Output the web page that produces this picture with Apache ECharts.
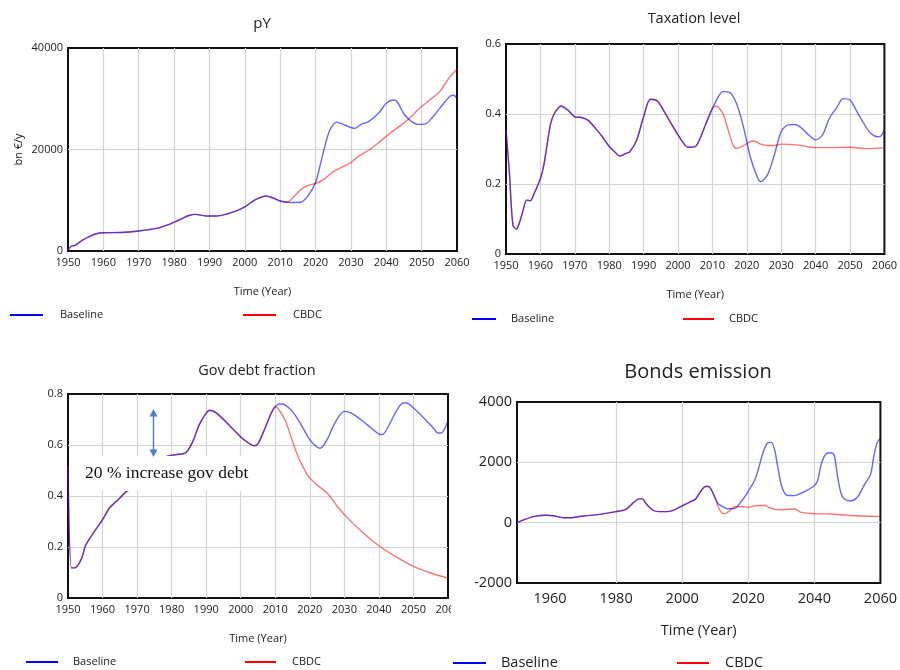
<!DOCTYPE html>
<html><head><meta charset="utf-8">
<script src="https://cdn.jsdelivr.net/npm/echarts@6/dist/echarts.min.js"></script>
<style>html,body{margin:0;padding:0;background:#fff}#c{width:900px;height:670px}</style>
</head><body><div id="c"></div>
<script>
// ---------- DATA ----------
const seriesNames = ['Baseline', 'CBDC'];
const chartTitles = ['pY', 'Taxation level', 'Gov debt fraction', 'Bonds emission'];
const bondsTickYears = [1960, 1980, 2000, 2020, 2040, 2060];

// pY (bn €/y): shared history until 2010, then two scenarios
const pyHistory = [[1950,200],[1951,985],[1952,1100],[1954,2100],[1956,2850],[1958,3400],[1960,3600],[1965,3650],[1970,3950],[1975,4450],[1979,5350],[1982,6300],[1984,6950],[1986,7220],[1989,6900],[1992,6900],[1995,7300],[1997,7750],[2000,8700],[2003,10100],[2006,10840],[2008,10440],[2010,9850]];
const pyBaselineTail = [[2012,9600],[2014,9550],[2016,9650],[2018,11000],[2020,13500],[2022,18900],[2024,23800],[2026,25400],[2028,24900],[2031,24170],[2033,25000],[2035,25500],[2038,27300],[2040,29100],[2042,29750],[2043,29500],[2045,27000],[2047,25600],[2049,24950],[2051,25000],[2053,26300],[2055,28000],[2058,30500],[2059,30700],[2060,30080]];
const pyCbdcTail = [[2012,9650],[2014,10800],[2016,12200],[2018,12950],[2020,13300],[2022,13950],[2025,15630],[2028,16700],[2030,17400],[2032,18600],[2035,19850],[2038,21450],[2041,23180],[2044,24700],[2047,26400],[2049,27900],[2052,29600],[2055,31300],[2058,34300],[2060,35800]];

// Taxation level
const taxHistory = [[1950,0.354],[1951,0.23],[1952,0.083],[1953,0.071],[1954,0.092],[1955,0.126],[1956,0.154],[1957,0.152],[1958,0.169],[1960,0.216],[1961,0.254],[1962,0.316],[1963,0.373],[1964,0.40],[1966,0.423],[1968,0.411],[1970,0.392],[1972,0.39],[1974,0.381],[1976,0.359],[1978,0.335],[1980,0.307],[1982,0.288],[1983,0.28],[1985,0.288],[1986,0.292],[1988,0.326],[1990,0.392],[1992,0.442],[1994,0.437],[1996,0.407],[1998,0.373],[2000,0.34],[2002,0.311],[2003,0.305],[2005,0.307],[2006,0.321],[2008,0.369],[2010,0.416]];
const taxBaselineTail = [[2012,0.454],[2013,0.464],[2015,0.462],[2017,0.43],[2019,0.364],[2021,0.278],[2023,0.221],[2024,0.207],[2026,0.226],[2028,0.283],[2030,0.35],[2032,0.369],[2034,0.37],[2036,0.359],[2038,0.34],[2040,0.326],[2042,0.34],[2044,0.388],[2046,0.416],[2048,0.444],[2050,0.44],[2052,0.407],[2054,0.373],[2056,0.345],[2058,0.335],[2059,0.337],[2060,0.354]];
const taxCbdcTail = [[2011,0.423],[2013,0.402],[2014,0.373],[2016,0.311],[2017,0.302],[2019,0.309],[2021,0.321],[2022,0.323],[2024,0.314],[2026,0.31],[2028,0.31],[2030,0.314],[2035,0.311],[2038,0.306],[2040,0.304],[2045,0.304],[2050,0.305],[2055,0.301],[2060,0.304]];

// Gov debt fraction
const debtHistory = [[1950,0.516],[1951,0.118],[1952,0.118],[1954,0.157],[1955,0.203],[1957,0.248],[1960,0.307],[1962,0.353],[1964,0.379],[1967,0.418],[1969,0.431],[1972,0.48],[1975,0.52],[1978,0.552],[1981,0.562],[1984,0.569],[1986,0.61],[1988,0.68],[1990,0.725],[1991,0.736],[1993,0.725],[1997,0.673],[2001,0.62],[2004,0.597],[2005,0.605],[2007,0.665],[2009,0.73],[2010,0.75]];
const debtBaselineTail = [[2011,0.761],[2012,0.761],[2014,0.745],[2016,0.712],[2018,0.667],[2020,0.621],[2022,0.592],[2023,0.587],[2025,0.621],[2027,0.68],[2029,0.723],[2030,0.732],[2032,0.725],[2035,0.697],[2038,0.664],[2040,0.643],[2041,0.641],[2043,0.68],[2045,0.732],[2047,0.765],[2048,0.765],[2050,0.745],[2053,0.706],[2056,0.663],[2057,0.647],[2058,0.647],[2060,0.695]];
const debtCbdcTail = [[2011,0.74],[2013,0.693],[2015,0.614],[2017,0.542],[2019,0.49],[2020,0.471],[2022,0.444],[2025,0.412],[2028,0.359],[2030,0.327],[2035,0.261],[2040,0.205],[2045,0.161],[2050,0.124],[2055,0.098],[2060,0.078]];

// Bonds emission
const bondsHistory = [[1950,0],[1952,90],[1955,200],[1959,245],[1961,230],[1964,165],[1966,165],[1970,220],[1975,275],[1980,365],[1983,443],[1985,640],[1987,790],[1988,790],[1989,640],[1991,420],[1993,365],[1996,375],[1998,443],[2000,560],[2003,720],[2004,775],[2006,1100],[2007,1200],[2008,1200],[2009,1050],[2010,810]];
const bondsBaselineTail = [[2011,620],[2013,490],[2014,460],[2016,475],[2018,720],[2020,1040],[2022,1420],[2023,1750],[2024,2150],[2025,2480],[2026,2650],[2027,2660],[2028,2400],[2029,1800],[2030,1250],[2031,980],[2032,900],[2034,895],[2036,975],[2038,1085],[2040,1230],[2041,1400],[2042,1900],[2043,2200],[2044,2310],[2045,2320],[2046,2245],[2047,1550],[2048,1000],[2049,790],[2051,720],[2053,840],[2055,1230],[2057,1600],[2058,2200],[2059,2650],[2060,2800]];
const bondsCbdcTail = [[2011,500],[2012,320],[2013,300],[2014,365],[2016,530],[2018,535],[2020,510],[2022,555],[2025,575],[2026,520],[2028,440],[2030,430],[2034,455],[2036,340],[2040,300],[2045,285],[2050,245],[2055,220],[2060,200]];

const annotationText = '20 % increase gov debt';

// ---------- LAYOUT / STYLE ----------
const FONT = '"Open Sans", "Noto Sans", sans-serif';
const TXT = '#222';
const BLUE = '#0000ff', RED = '#ff0000';

const panels = [
  { grid:{left:68, top:48, width:389, height:203}, y:[0,40000,20000],
    hist:pyHistory, base:pyBaselineTail, cbdc:pyCbdcTail,
    title:{cx:262, top:16.5, size:15}, fs:11, nameGap:35, yName:'bn €/y',
    legend:[{left:10, y:315, gap:12, w:33},{left:243, y:315, gap:12, w:33}] },
  { grid:{left:506, top:44, width:379, height:210}, y:[0,0.6,0.2],
    hist:taxHistory, base:taxBaselineTail, cbdc:taxCbdcTail,
    title:{cx:694, top:11, size:14.5}, fs:11, nameGap:35,
    legend:[{left:472, y:319, gap:10, w:24},{left:683, y:319, gap:10, w:31}] },
  { grid:{left:68, top:394, width:380, height:204}, y:[0,0.8,0.2],
    hist:debtHistory, base:debtBaselineTail, cbdc:debtCbdcTail,
    title:{cx:257, top:363, size:14.5}, fs:11, nameGap:35,
    legend:[{left:26, y:662, gap:10, w:32},{left:245, y:662, gap:11, w:31}] },
  { grid:{left:517, top:402, width:365, height:181}, y:[-2000,4000,2000],
    hist:bondsHistory, base:bondsBaselineTail, cbdc:bondsCbdcTail,
    title:{cx:698, top:362, size:20}, fs:14.5, nameGap:40, bonds:true,
    legend:[{left:453, y:663, gap:10, w:33},{left:677, y:663, gap:11, w:32}] }
];

const option = {
  animation:false,
  backgroundColor:'#fff',
  title:[], grid:[], xAxis:[], yAxis:[], series:[], legend:[], graphic:[]
};

const splitStyle = {show:true, showMinLine:false, showMaxLine:false, lineStyle:{color:'#d4d4d4', width:1.2}};

panels.forEach((p, i) => {
  option.title.push({
    text: chartTitles[i], left: p.title.cx, top: p.title.top, textAlign:'center', padding:0,
    textStyle:{fontFamily:FONT, fontSize:p.title.size, fontWeight:'normal', color:TXT}
  });
  option.grid.push(Object.assign({show:true, borderColor:'#111', borderWidth:2, backgroundColor:'rgba(0,0,0,0)', containLabel:false}, p.grid));
  const xa = {
    gridIndex:i, type:'value', min:1950, max:2060,
    name:'Time (Year)', nameLocation:'middle', nameGap:p.nameGap,
    nameTextStyle:{fontFamily:FONT, fontSize:p.fs, color:TXT},
    axisLine:{show:false}, axisTick:{show:false},
    axisLabel:{fontFamily:FONT, fontSize:p.fs, color:TXT, margin:p.bonds?8:6.5, showMaxLabel:true, showMinLabel:true, hideOverlap:false, formatter:v=>String(v)},
    splitLine:splitStyle
  };
  if (p.bonds) {
    xa.axisTick = {show:false, customValues: bondsTickYears};
    xa.axisLabel.customValues = bondsTickYears;
  } else {
    xa.interval = 10;
  }
  option.xAxis.push(xa);
  option.yAxis.push({
    gridIndex:i, type:'value', min:p.y[0], max:p.y[1], interval:p.y[2],
    name:p.yName || '', nameLocation:'middle', nameGap:44,
    nameTextStyle:{fontFamily:FONT, fontSize:11, color:TXT},
    axisLine:{show:false}, axisTick:{show:false},
    axisLabel:{fontFamily:FONT, fontSize:p.fs, color:TXT, margin:5, formatter:v=>String(v)},
    splitLine:splitStyle
  });
  const mk = (name, data, color, op) => ({
    type:'line', name, xAxisIndex:i, yAxisIndex:i, data, showSymbol:false, symbol:'none',
    smooth:0.3, color, lineStyle:{width:1.4, opacity:op}, silent:true, z:3
  });
  // CBDC drawn first, Baseline on top (shared history looks blue-violet)
  option.series.push(mk(seriesNames[1], p.hist.concat(p.cbdc), RED, 0.55));
  option.series.push(mk(seriesNames[0], p.hist.concat(p.base), BLUE, 0.6));
  p.legend.forEach((lg, k) => {
    const lh = p.bonds ? 18 : 14;
    option.legend.push({
      data:[seriesNames[k]], left:lg.left, top:lg.y - lh/2, padding:0, orient:'horizontal',
      icon:'rect', itemWidth:lg.w, itemHeight:2, selectedMode:false,
      itemStyle:{color: k===0 ? BLUE : RED},
      textStyle:{fontFamily:FONT, fontSize:p.fs, color:TXT, lineHeight:lh, padding:[0,0,0,lg.gap]}
    });
  });
});

// annotation on "Gov debt fraction"
const ARROW = '#4f7fc8';
option.graphic = [
  {type:'rect', z:100, shape:{x:80, y:456, width:176, height:35}, style:{fill:'#fff'}},
  {type:'text', z:101, x:85, y:473.5, style:{text:annotationText, font:'17.5px "Liberation Serif", "Times New Roman", serif', fill:'#111', verticalAlign:'middle'}},
  {type:'line', z:101, shape:{x1:153.5, y1:415, x2:153.5, y2:451}, style:{stroke:ARROW, lineWidth:1.5}},
  {type:'polygon', z:101, shape:{points:[[153.5,409],[149.5,416.5],[157.5,416.5]]}, style:{fill:ARROW}},
  {type:'polygon', z:101, shape:{points:[[153.5,457],[149.5,449.5],[157.5,449.5]]}, style:{fill:ARROW}},
  {type:'rect', z:100, shape:{x:451, y:603, width:14, height:16}, style:{fill:'#fff'}}
];

const chart = echarts.init(document.getElementById('c'));
chart.setOption(option);
</script>
</body></html>
